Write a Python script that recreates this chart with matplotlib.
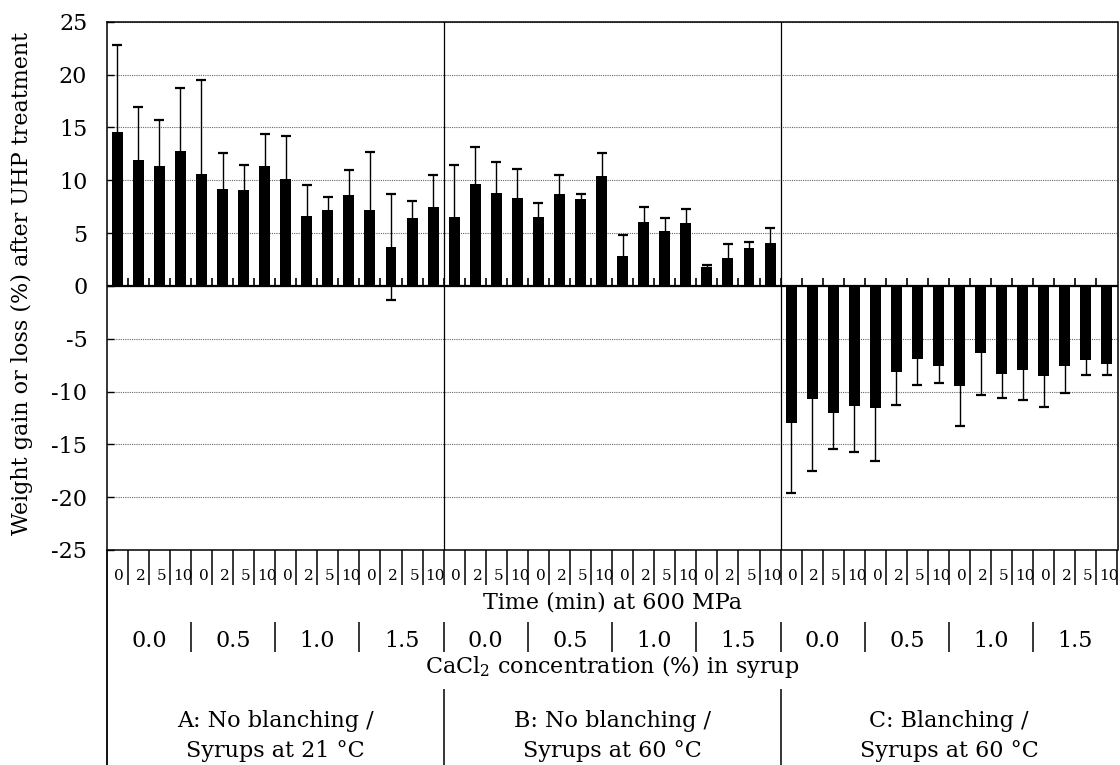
import matplotlib
matplotlib.use("Agg")
import matplotlib.pyplot as plt
from matplotlib.transforms import blended_transform_factory
import numpy as np

# Experimental design labels
treatments = [("A: No blanching /", "Syrups at 21 °C"),
              ("B: No blanching /", "Syrups at 60 °C"),
              ("C: Blanching /", "Syrups at 60 °C")]
cacl2_levels = ["0.0", "0.5", "1.0", "1.5"]
times = ["0", "2", "5", "10"]

# Mean weight change (%) and standard deviation, ordered CaCl2 level x time
gain_A = [14.6, 11.9, 11.35, 12.8, 10.55, 9.15, 9.05, 11.35,
          10.1, 6.6, 7.15, 8.6, 7.15, 3.7, 6.4, 7.45]
sd_A = [8.2, 5.0, 4.35, 5.9, 8.95, 3.4, 2.4, 3.05,
        4.1, 2.9, 1.25, 2.4, 5.55, 5.0, 1.65, 3.05]
gain_B = [6.5, 9.6, 8.75, 8.3, 6.5, 8.7, 8.2, 10.4,
          2.85, 6.05, 5.2, 5.95, 1.8, 2.65, 3.6, 4.05]
sd_B = [4.95, 3.5, 2.95, 2.75, 1.35, 1.8, 0.5, 2.2,
        2.0, 1.4, 1.25, 1.35, 0.15, 1.35, 0.55, 1.4]
gain_C = [-13.0, -10.7, -12.0, -11.35, -11.55, -8.15, -6.9, -7.6,
          -9.5, -6.35, -8.35, -7.95, -8.55, -7.6, -7.0, -7.4]
sd_C = [6.65, 6.8, 3.4, 4.35, 5.05, 3.1, 2.45, 1.6,
        3.8, 4.0, 2.3, 2.9, 2.9, 2.5, 1.45, 1.05]

plt.rcParams['font.family'] = ['DejaVu Serif']
plt.rcParams['mathtext.fontset'] = 'dejavuserif'
plt.rcParams['axes.unicode_minus'] = False

FS = 16

W, H = 1120, 765
fig = plt.figure(figsize=(W / 100, H / 100), dpi=100)
left_px, right_px, top_px, bottom_px = 106.7, 1117.5, 21.7, 550.0
ax = fig.add_axes([left_px / W, 1 - bottom_px / H,
                   (right_px - left_px) / W, (bottom_px - top_px) / H])

values = np.array(gain_A + gain_B + gain_C)
errors = np.array(sd_A + sd_B + sd_C)
n = len(values)
x = np.arange(n)
n_time = len(times)
n_block = n_time * len(cacl2_levels)

ax.bar(x, values, width=0.52, color='black', zorder=3)
ax.errorbar(x, values, yerr=errors, fmt='none', ecolor='black',
            elinewidth=1.0, capsize=3.3, capthick=1.6, zorder=4)

ax.set_xlim(-0.5, n - 0.5)
ax.set_ylim(-25, 25)
ax.set_yticks(range(-25, 26, 5))
ax.set_xticks([])
ax.yaxis.grid(True, linestyle=(0, (1, 1)), color='#666666', linewidth=0.8, zorder=1)
ax.set_axisbelow(True)
for s in ax.spines.values():
    s.set_linewidth(1.1)
ax.tick_params(axis='y', direction='in', length=5, width=1.0, pad=14, labelsize=FS)

# zero line with short marks between bars
ax.axhline(0, color='black', lw=1.6, zorder=5)
ax.vlines(x[:-1] + 0.5, 0, 0.75, color='black', lw=1.2, zorder=5)

# treatment dividers
for b in range(1, len(treatments)):
    ax.axvline(b * n_block - 0.5, color='black', lw=0.9, zorder=2)

fig.text(22 / W, 1 - 283 / H, "Weight gain or loss (%) after UHP treatment",
         rotation=90, ha='center', va='center', fontsize=FS)

# category table beneath the axis
tr = blended_transform_factory(ax.transData, fig.transFigure)


def fy(py):
    return 1 - py / H


def vline(xd, y0, y1, lw=1.1):
    ax.plot([xd, xd], [fy(y0), fy(y1)], color='black', lw=lw,
            transform=tr, clip_on=False, solid_capstyle='butt')


vline(-0.5, bottom_px, H + 2, lw=1.3)

# row 1: exposure time
for i in range(n):
    vline(i + 0.5, bottom_px, 585)
    ax.text(i + 0.1, fy(580), times[i % n_time], transform=tr,
            ha='center', va='baseline', fontsize=11)
ax.text((n - 1) / 2, fy(608), "Time (min) at 600 MPa", transform=tr,
        ha='center', va='baseline', fontsize=FS)

# row 2: CaCl2 concentration
n_conc_groups = n // n_time
for g in range(n_conc_groups):
    ax.text(g * n_time + (n_time - 1) / 2, fy(647), cacl2_levels[g % len(cacl2_levels)],
            transform=tr, ha='center', va='baseline', fontsize=FS)
    if g > 0:
        vline(g * n_time - 0.5, 622, 652)
ax.text((n - 1) / 2, fy(673), r"CaCl$_2$ concentration (%) in syrup", transform=tr,
        ha='center', va='baseline', fontsize=FS)

# row 3: treatment
for t, (line1, line2) in enumerate(treatments):
    cx = t * n_block + (n_block - 1) / 2
    ax.text(cx, fy(727), line1, transform=tr, ha='center', va='baseline', fontsize=FS)
    ax.text(cx, fy(757), line2, transform=tr, ha='center', va='baseline', fontsize=FS)
    if t > 0:
        vline(t * n_block - 0.5, 689, H + 2)

fig.savefig("out.png", dpi=100)
